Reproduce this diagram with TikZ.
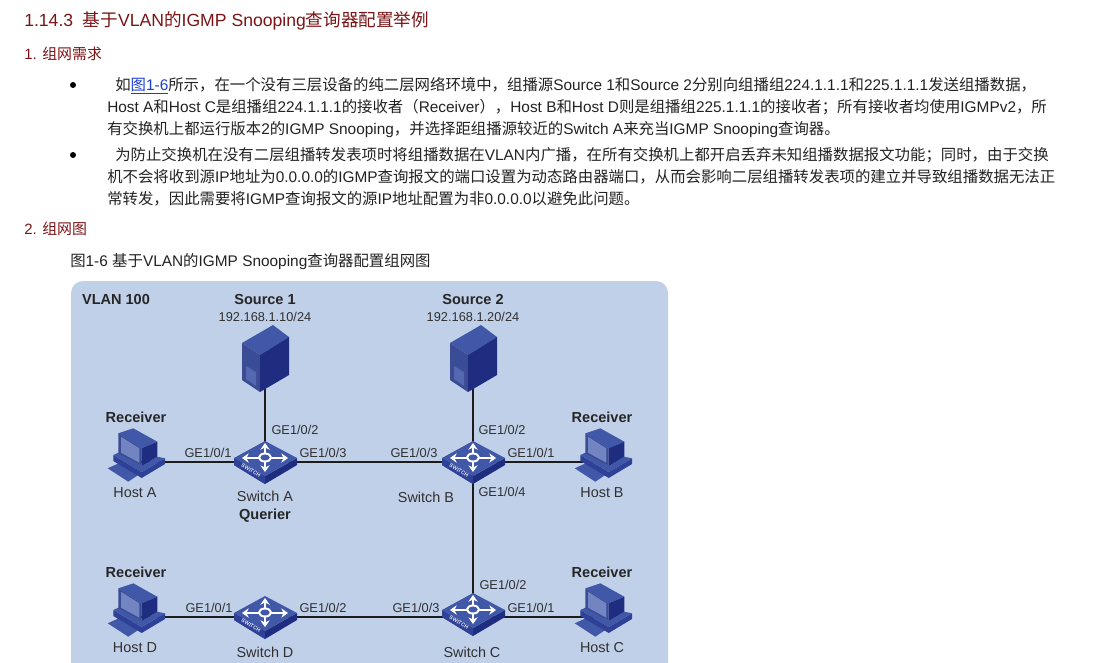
\documentclass[tikz,border=0pt]{standalone}
\usepackage{fontspec}
\setmainfont{Liberation Sans}
\newfontfamily\cjk{Noto Sans CJK SC}
\newcommand{\zh}[1]{{\cjk #1}}
\usetikzlibrary{arrows.meta}

\definecolor{headred}{HTML}{7A1416}
\definecolor{bodyink}{HTML}{222222}
\definecolor{linkblue}{HTML}{1A3FD0}
\definecolor{panelblue}{HTML}{C1D0E9}
\definecolor{faceblue}{HTML}{4157A8}
\definecolor{sideblue}{HTML}{2F4196}
\definecolor{darkblue}{HTML}{1F2D80}
\definecolor{screenblue}{HTML}{7384C2}
\definecolor{wireink}{HTML}{1C1C1C}
\definecolor{labelink}{HTML}{303030}

\tikzset{
	headline/.style={anchor=base west, inner sep=0pt, text=headred, font=\fontsize{11.2pt}{13pt}\selectfont},
	bodyline/.style={anchor=base west, inner sep=0pt, text=bodyink, font=\fontsize{11.55pt}{13pt}\selectfont},
	bulletdot/.style={circle, fill=black, inner sep=0pt, minimum size=4.5pt},
	devlabel/.style={inner sep=0pt, text=labelink, text height=7pt, text depth=0pt, font=\fontsize{9.6pt}{11pt}\selectfont},
	namelabel/.style={devlabel, text height=8pt, font=\fontsize{10.8pt}{12pt}\selectfont},
	boldlabel/.style={devlabel, text height=8pt, text=black!85, font=\fontsize{10.9pt}{12pt}\selectfont\bfseries},
	devspot/.style={inner sep=0pt, minimum size=1pt},
	wire/.style={draw=wireink, line width=2.1pt},
	spoke/.style={draw=white, line width=1.7pt, -{Stealth[length=5pt,width=7pt]}},
	server/.pic={
		\fill[faceblue] (-23,-15) -- (8,-33) -- (24,-21) -- (-5,-3) -- cycle;
		\fill[faceblue!88!black] (-23,-15) -- (-5,-3) -- (-5,34) -- (-23,22) -- cycle;
		\fill[darkblue] (-5,-3) -- (24,-21) -- (24,17) -- (-5,34) -- cycle;
		\fill[faceblue!90!white] (-19,8) -- (-9,14) -- (-9,28) -- (-19,21) -- cycle;
	},
	host/.pic={
		\fill[faceblue] (-30.3,6.3) -- (-18,0.7) -- (0.3,13) -- (-9.7,19.7) -- cycle;
		\fill[sideblue] (-24.7,-7) -- (3.7,10) -- (27,-3.7) -- (27,2) -- (3.7,16) -- (-24.7,-1) -- cycle;
		\fill[faceblue] (-24.7,-7) -- (-19.7,-9.3) -- (3.7,4) -- (19.3,-5.3) -- (27,-3.7) -- (3.7,10) -- cycle;
		\fill[faceblue] (-19.7,-28.7) -- (-4.7,-33.7) -- (19.3,-20.3) -- (3.7,-13.7) -- cycle;
		\fill[faceblue!88!black] (-19.7,-28.7) -- (3.7,-13.7) -- (3.7,4) -- (-19.7,-8.7) -- cycle;
		\fill[screenblue] (-17,-25.3) -- (1.3,-13.7) -- (1.3,0.7) -- (-17,-9.3) -- cycle;
		\fill[darkblue] (3.7,-13.7) -- (19.3,-20.3) -- (19.3,-5.3) -- (3.7,4) -- cycle;
	},
	switch/.pic={
		\fill[darkblue] (-31,0) -- (0,18) -- (32,0) -- (32,7) -- (0,26) -- (-31,7) -- cycle;
		\fill[sideblue] (-31,0) -- (0,18) -- (0,26) -- (-31,7) -- cycle;
		\fill[faceblue] (-31,0) -- (0,-17) -- (32,0) -- (0,18) -- cycle;
		\draw[spoke] (0,-4) -- (0,-15);
		\draw[spoke] (0,3) -- (0,14);
		\draw[spoke] (-6,0) -- (-23,0);
		\draw[spoke] (6,0) -- (23,0);
		\draw[white, line width=1.5pt] (0,-0.5) ellipse (6 and 4);
		\node[inner sep=0pt, rotate=-30, text=white!85!faceblue, font=\fontsize{4pt}{4pt}\selectfont\bfseries] (-tag) at (-14,12.5) {SWITCH};
	},
}

\begin{document}
\begin{tikzpicture}[x=0.75pt, y=-0.75pt]
	\useasboundingbox (0,0) rectangle (1105,662);

	% Text above the figure
	\node[headline, font=\fontsize{13.2pt}{16pt}\selectfont] (title) at (24,26) {1.14.3\hspace{0.55em}\zh{基于}VLAN\zh{的}IGMP Snooping\zh{查询器配置举例}};
	\node[headline] (needs) at (24,59) {1. \zh{组网需求}};
	\node[bulletdot] (dotA) at (73,85) {};
	\node[bodyline] (lineA) at (115,90) {\zh{如}\textcolor{linkblue}{\underline{\zh{图}1-6}}\zh{所示，在一个没有三层设备的纯二层网络环境中，组播源}Source 1\zh{和}Source 2\zh{分别向组播组}224.1.1.1\zh{和}225.1.1.1\zh{发送组播数据，}};
	\node[bodyline] (lineB) at (107,112) {Host A\zh{和}Host C\zh{是组播组}224.1.1.1\zh{的接收者（}Receiver\zh{），}Host B\zh{和}Host D\zh{则是组播组}225.1.1.1\zh{的接收者；所有接收者均使用}IGMPv2\zh{，所}};
	\node[bodyline] (lineC) at (107,134) {\zh{有交换机上都运行版本}2\zh{的}IGMP Snooping\zh{，并选择距组播源较近的}Switch A\zh{来充当}IGMP Snooping\zh{查询器。}};
	\node[bulletdot] (dotB) at (73,155) {};
	\node[bodyline] (lineD) at (115,160) {\zh{为防止交换机在没有二层组播转发表项时将组播数据在}VLAN\zh{内广播，在所有交换机上都开启丢弃未知组播数据报文功能；同时，由于交换}};
	\node[bodyline] (lineE) at (107,182) {\zh{机不会将收到源}IP\zh{地址为}0.0.0.0\zh{的}IGMP\zh{查询报文的端口设置为动态路由器端口，从而会影响二层组播转发表项的建立并导致组播数据无法正}};
	\node[bodyline] (lineF) at (107,204) {\zh{常转发，因此需要将}IGMP\zh{查询报文的源}IP\zh{地址配置为非}0.0.0.0\zh{以避免此问题。}};
	\node[headline] (chart) at (24,234) {2. \zh{组网图}};
	\node[bodyline] (caption) at (70,266) {\zh{图}1-6 \zh{基于}VLAN\zh{的}IGMP Snooping\zh{查询器配置组网图}};

	% Panel
	\fill[panelblue, rounded corners=9pt] (71,281) rectangle (668,700);

	% Device spots
	\node[devspot] (srcOne) at (265,358) {};
	\node[devspot] (srcTwo) at (473,358) {};
	\node[devspot] (hostA) at (138,462) {};
	\node[devspot] (hostB) at (605,462) {};
	\node[devspot] (hostC) at (605,617) {};
	\node[devspot] (hostD) at (138,617) {};
	\node[devspot] (swA) at (265,462) {};
	\node[devspot] (swB) at (473,462) {};
	\node[devspot] (swC) at (473,617) {};
	\node[devspot] (swD) at (265,617) {};

	% Links
	\draw[wire] (srcOne) -- (swA);
	\draw[wire] (srcTwo) -- (swB);
	\draw[wire] (hostA) -- (swA);
	\draw[wire] (swA) -- (swB);
	\draw[wire] (swB) -- (hostB);
	\draw[wire] (swB) -- (swC);
	\draw[wire] (hostD) -- (swD);
	\draw[wire] (swD) -- (swC);
	\draw[wire] (swC) -- (hostC);

	% Devices
	\pic at (265,358) {server};
	\pic at (473,358) {server};
	\pic at (138,462) {host};
	\pic at (605,462) {host};
	\pic at (605,617) {host};
	\pic at (138,617) {host};
	\pic (iconA) at (265,458) {switch};
	\pic (iconB) at (473,458) {switch};
	\pic (iconC) at (473,610) {switch};
	\pic (iconD) at (265,613) {switch};

	% Labels
	\node[boldlabel] (vlan) at (116,299) {VLAN 100};
	\node[boldlabel] (srcOneName) at (265,299) {Source 1};
	\node[devlabel] (srcOneIp) at (265,317) {192.168.1.10/24};
	\node[boldlabel] (srcTwoName) at (473,299) {Source 2};
	\node[devlabel] (srcTwoIp) at (473,317) {192.168.1.20/24};

	\node[boldlabel] (recvA) at (136,417) {Receiver};
	\node[namelabel] (hostAName) at (135,492) {Host A};
	\node[boldlabel] (recvB) at (602,417) {Receiver};
	\node[namelabel] (hostBName) at (602,492) {Host B};
	\node[boldlabel] (recvD) at (136,572) {Receiver};
	\node[namelabel] (hostDName) at (135,647) {Host D};
	\node[boldlabel] (recvC) at (602,572) {Receiver};
	\node[namelabel] (hostCName) at (602,647) {Host C};

	\node[namelabel] (swAName) at (265,496) {Switch A};
	\node[boldlabel] (querier) at (265,514) {Querier};
	\node[namelabel] (swBName) at (426,497) {Switch B};
	\node[namelabel] (swCName) at (472,652) {Switch C};
	\node[namelabel] (swDName) at (265,652) {Switch D};

	% Port names
	\node[devlabel] (aOne) at (208,453) {GE1/0/1};
	\node[devlabel] (aTwo) at (295,430) {GE1/0/2};
	\node[devlabel] (aThree) at (323,453) {GE1/0/3};
	\node[devlabel] (bThree) at (414,453) {GE1/0/3};
	\node[devlabel] (bTwo) at (502,430) {GE1/0/2};
	\node[devlabel] (bOne) at (531,453) {GE1/0/1};
	\node[devlabel] (bFour) at (502,492) {GE1/0/4};
	\node[devlabel] (dOne) at (209,608) {GE1/0/1};
	\node[devlabel] (dTwo) at (323,608) {GE1/0/2};
	\node[devlabel] (cThree) at (416,608) {GE1/0/3};
	\node[devlabel] (cTwo) at (503,585) {GE1/0/2};
	\node[devlabel] (cOne) at (531,608) {GE1/0/1};
\end{tikzpicture}
\end{document}
